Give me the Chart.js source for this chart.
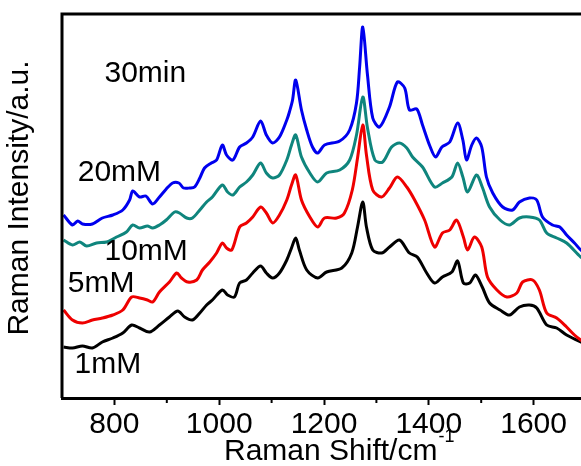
<!DOCTYPE html>
<html>
<head>
<meta charset="utf-8">
<script src="https://cdn.jsdelivr.net/npm/chart.js@4.4.0/dist/chart.umd.min.js"></script>
<style>
  html, body { margin: 0; padding: 0; background: #fff; overflow: hidden; }
  #wrap { width: 600px; height: 466px; }
</style>
</head>
<body>
<div id="wrap"><canvas id="raman" width="600" height="466"></canvas></div>
<script>
// tick labels
const xTicks = [800, 1000, 1200, 1400, 1600];
const xMinorTicks = [900, 1100, 1300, 1500];

// 20mM (blue)
const shift20 = [703, 720, 730, 739, 758, 777, 797, 816, 829, 835, 848, 860, 873, 886, 899, 911, 923, 932, 944, 953, 963, 972, 985, 995, 1006, 1014, 1026, 1039, 1052, 1064, 1079, 1090, 1102, 1115, 1129, 1134, 1140, 1146, 1157, 1167, 1178, 1188, 1201, 1230, 1249, 1262, 1268, 1274, 1283, 1293, 1306, 1325, 1340, 1354, 1363, 1377, 1388, 1402, 1413, 1425, 1440, 1455, 1465, 1472, 1482, 1491, 1501, 1510, 1522, 1541, 1560, 1573, 1592, 1606, 1617, 1636, 1650, 1663, 1678, 1690, 1700];
const int20 = [183, 173, 177, 174, 174, 180, 183, 188, 198, 207, 201, 202, 194, 201, 209, 215, 215, 210, 210, 211, 220, 230, 235, 238, 253, 243, 238, 251, 255, 261, 277, 263, 255, 261, 278, 286, 298, 318, 288, 268, 251, 245, 253, 257, 268, 295, 331, 371, 323, 280, 271, 291, 316, 310, 288, 289, 273, 252, 241, 251, 256, 275, 258, 238, 253, 260, 251, 221, 205, 191, 188, 196, 200, 198, 181, 173, 171, 163, 155, 148, 144];

// 10mM (teal)
const shift10 = [703, 720, 734, 747, 766, 785, 804, 823, 835, 848, 863, 873, 886, 899, 915, 924, 938, 949, 963, 976, 987, 1006, 1016, 1026, 1039, 1052, 1064, 1079, 1090, 1102, 1115, 1129, 1138, 1146, 1157, 1173, 1188, 1205, 1230, 1249, 1262, 1274, 1283, 1297, 1312, 1329, 1344, 1358, 1369, 1388, 1411, 1426, 1444, 1455, 1465, 1474, 1491, 1502, 1516, 1536, 1554, 1573, 1592, 1611, 1625, 1644, 1663, 1690, 1700];
const int10 = [158, 153, 156, 152, 155, 156, 161, 166, 173, 170, 172, 170, 173, 178, 186, 185, 180, 180, 188, 196, 201, 213, 206, 203, 211, 216, 223, 235, 225, 220, 223, 238, 253, 263, 241, 225, 216, 225, 228, 238, 263, 301, 270, 238, 236, 251, 255, 250, 241, 231, 211, 215, 221, 235, 221, 206, 223, 211, 191, 178, 173, 180, 181, 178, 165, 160, 155, 141, 138];

// 5mM (red)
const shift5 = [703, 720, 739, 758, 777, 797, 816, 833, 848, 863, 873, 886, 905, 919, 928, 940, 957, 968, 982, 995, 1006, 1014, 1024, 1039, 1052, 1064, 1079, 1090, 1102, 1115, 1129, 1138, 1146, 1157, 1173, 1188, 1201, 1224, 1239, 1254, 1264, 1274, 1281, 1293, 1310, 1325, 1340, 1358, 1373, 1392, 1411, 1426, 1440, 1453, 1466, 1474, 1487, 1501, 1512, 1530, 1549, 1568, 1579, 1598, 1611, 1625, 1644, 1663, 1678, 1690, 1700];
const int5 = [88, 78, 75, 78, 80, 83, 88, 101, 100, 98, 96, 106, 116, 125, 120, 116, 118, 128, 136, 145, 155, 150, 148, 171, 175, 181, 191, 185, 175, 183, 198, 213, 223, 198, 181, 171, 180, 180, 185, 208, 240, 273, 243, 208, 201, 210, 221, 211, 198, 178, 151, 165, 168, 178, 161, 148, 161, 151, 121, 108, 101, 105, 116, 118, 108, 85, 80, 71, 63, 58, 55];

// 1mM (black)
const shift1 = [703, 720, 739, 758, 777, 797, 816, 833, 848, 867, 886, 905, 921, 934, 949, 963, 976, 987, 1006, 1016, 1029, 1039, 1052, 1064, 1079, 1090, 1102, 1115, 1129, 1138, 1146, 1153, 1167, 1188, 1205, 1234, 1253, 1264, 1274, 1281, 1293, 1310, 1325, 1344, 1363, 1378, 1396, 1411, 1426, 1444, 1455, 1466, 1478, 1489, 1502, 1516, 1536, 1554, 1573, 1592, 1606, 1625, 1644, 1663, 1690, 1700];
const int1 = [51, 50, 52, 50, 56, 60, 65, 73, 70, 66, 73, 81, 87, 81, 78, 85, 93, 98, 108, 103, 101, 115, 118, 125, 132, 125, 120, 125, 138, 150, 160, 148, 128, 120, 126, 130, 145, 171, 196, 171, 148, 145, 151, 158, 145, 141, 125, 115, 121, 126, 137, 115, 115, 123, 111, 95, 88, 83, 91, 93, 90, 73, 70, 63, 56, 53];

// in-plot notes: text, anchor shift, anchor intensity
const noteText = ['30min', '20mM', '10mM', '5mM', '1mM'];
const noteShift = [781, 730, 781, 711, 724];
const noteLevel = [324, 225, 146, 114, 33];

const FONT = '"Liberation Sans", Arial, sans-serif';
const pairs = (xs, ys) => xs.map((v, i) => ({ x: v, y: ys[i] }));

const decor = {
  id: 'decor',
  afterDraw(chart) {
    const { ctx, chartArea: a, scales: { x, y } } = chart;
    ctx.save();
    ctx.strokeStyle = '#000';
    ctx.lineWidth = 3;
    ctx.beginPath();
    ctx.moveTo(a.left, a.bottom);
    ctx.lineTo(a.left, a.top);
    ctx.lineTo(a.right, a.top);
    ctx.lineTo(a.right, a.bottom);
    ctx.stroke();

    ctx.lineWidth = 2;
    xMinorTicks.forEach(v => {
      const px = x.getPixelForValue(v);
      ctx.beginPath();
      ctx.moveTo(px, a.bottom);
      ctx.lineTo(px, a.bottom + 5);
      ctx.stroke();
    });

    ctx.fillStyle = '#000';
    ctx.font = '30px ' + FONT;
    ctx.textAlign = 'left';
    ctx.textBaseline = 'middle';
    noteText.forEach((t, i) => {
      ctx.fillText(t, x.getPixelForValue(noteShift[i]), y.getPixelForValue(noteLevel[i]));
    });

    // x title with superscript
    ctx.textBaseline = 'alphabetic';
    const tx = a.left + 162;
    ctx.fillText('Raman Shift/cm', tx, 460);
    const w = ctx.measureText('Raman Shift/cm').width;
    ctx.font = '18px ' + FONT;
    ctx.fillText('-1', tx + w + 1, 442);

    // y title
    ctx.font = '30px ' + FONT;
    ctx.translate(a.left - 42, (a.top + a.bottom) / 2 - 8);
    ctx.rotate(-Math.PI / 2);
    ctx.textAlign = 'center';
    ctx.textBaseline = 'middle';
    ctx.fillText('Raman Intensity/a.u.', 0, 0);
    ctx.restore();
  }
};

const line = (label, xs, ys, color) => ({
  label,
  data: pairs(xs, ys),
  borderColor: color,
  borderWidth: 3,
  pointRadius: 0,
  tension: 0.3,
  fill: false
});

new Chart(document.getElementById('raman'), {
  type: 'line',
  data: {
    datasets: [
      line('20mM', shift20, int20, '#0000ee'),
      line('10mM', shift10, int10, '#0f857d'),
      line('5mM', shift5, int5, '#ee0000'),
      line('1mM', shift1, int1, '#000000')
    ]
  },
  options: {
    responsive: false,
    animation: false,
    layout: { padding: { left: 62, top: 14, right: 14, bottom: 0 } },
    plugins: { legend: { display: false }, tooltip: { enabled: false } },
    scales: {
      x: {
        type: 'linear',
        min: 700,
        max: 1700,
        afterBuildTicks: s => { s.ticks = xTicks.map(v => ({ value: v })); },
        afterFit: s => { s.height = 68; },
        border: { display: true, color: '#000', width: 3 },
        grid: { drawOnChartArea: false, drawTicks: true, tickLength: 7, tickWidth: 2, tickColor: '#000' },
        ticks: {
          color: '#000',
          padding: 2,
          maxRotation: 0,
          font: { family: FONT, size: 30 },
          callback: v => String(v)
        }
      },
      y: {
        display: false,
        min: 0,
        max: 384
      }
    }
  },
  plugins: [decor]
});
</script>
</body>
</html>
